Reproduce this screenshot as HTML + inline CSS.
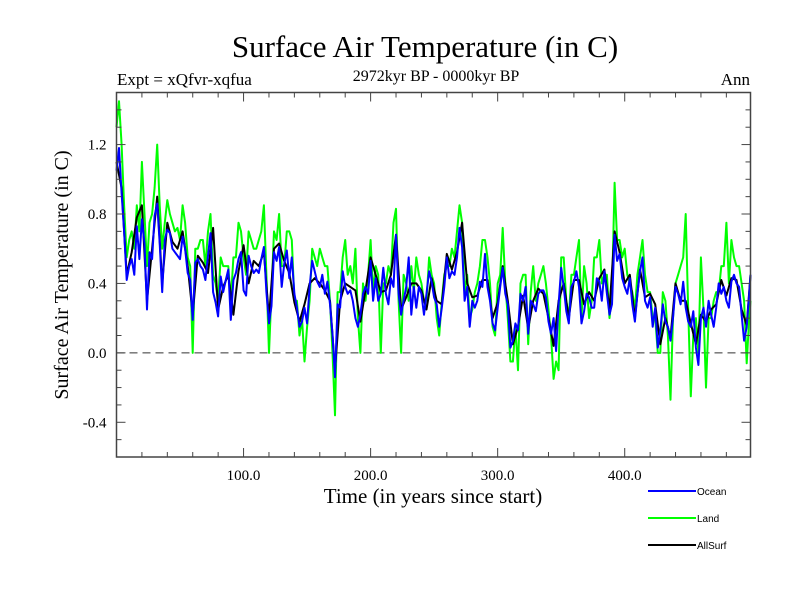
<!DOCTYPE html>
<html><head><meta charset="utf-8"><style>
html,body{margin:0;padding:0;background:#fff;}
svg{display:block;font-family:"Liberation Serif",serif;}
</style></head><body>
<svg id="chart" width="800" height="600" viewBox="0 0 800 600" xmlns="http://www.w3.org/2000/svg">
<rect x="0" y="0" width="800" height="600" fill="#fff"/>
<text x="425" y="57" font-size="31" text-anchor="middle">Surface Air Temperature (in C)</text>
<text x="117" y="85" font-size="17">Expt = xQfvr-xqfua</text>
<text x="436" y="81" font-size="16" text-anchor="middle">2972kyr BP - 0000kyr BP</text>
<text x="750" y="85" font-size="17" text-anchor="end">Ann</text>
<text transform="translate(68,275) rotate(-90)" font-size="20" text-anchor="middle">Surface Air Temperature (in C)</text>
<text x="433" y="503" font-size="21" text-anchor="middle">Time (in years since start)</text>
<g id="plot"></g>
<g font-family="Liberation Sans, sans-serif" font-size="10">
<line x1="648" y1="491" x2="696" y2="491" stroke="#0000ff" stroke-width="2"/>
<text x="697" y="495">Ocean</text>
<line x1="648" y1="518" x2="696" y2="518" stroke="#00ff00" stroke-width="2"/>
<text x="697" y="522">Land</text>
<line x1="648" y1="545" x2="696" y2="545" stroke="#000" stroke-width="2"/>
<text x="697" y="549">AllSurf</text>
</g>
</svg>
<script>
const oceanYears = Array.from({length:251},(_,i)=>i*2);
const oceanValues = [1.05,1.18,0.92,0.7,0.42,0.5,0.54,0.45,0.73,0.54,0.77,0.63,0.25,0.58,0.54,0.79,0.86,0.63,0.35,0.65,0.71,0.69,0.6,0.58,0.56,0.54,0.67,0.6,0.46,0.42,0.19,0.52,0.54,0.5,0.48,0.42,0.56,0.69,0.35,0.29,0.21,0.44,0.35,0.42,0.48,0.19,0.42,0.46,0.54,0.58,0.36,0.33,0.56,0.5,0.46,0.48,0.46,0.54,0.61,0.35,0.17,0.27,0.58,
0.53,0.61,0.38,0.51,0.59,0.43,0.55,0.34,0.26,0.15,0.18,0.26,0.17,0.38,0.53,0.47,0.41,0.38,0.45,0.34,0.41,0.28,0.11,-0.14,0.28,0.26,0.47,0.38,0.34,0.36,0.3,0.2,0.15,0.22,0.34,0.38,0.34,0.53,0.3,0.43,0.3,0.34,0.49,0.34,0.28,0.43,0.38,0.68,0.34,0.22,0.3,0.38,0.55,0.22,0.38,0.26,0.38,0.34,0.22,0.34,0.47,0.41,0.32,
0.28,0.15,0.26,0.38,0.55,0.43,0.47,0.45,0.55,0.72,0.61,0.3,0.38,0.15,0.3,0.26,0.3,0.41,0.38,0.57,0.38,0.3,0.17,0.13,0.26,0.38,0.49,0.34,0.28,0.03,0.07,0.17,0.13,0.34,0.3,0.38,0.11,0.3,0.28,0.24,0.34,0.36,0.36,0.32,0.18,0.11,0.2,0.01,0.28,0.49,0.38,0.24,0.17,0.38,0.41,0.47,0.38,0.17,0.24,0.34,0.32,0.26,
0.26,0.43,0.41,0.3,0.47,0.34,0.22,0.28,0.68,0.53,0.57,0.43,0.38,0.34,0.43,0.28,0.18,0.34,0.47,0.55,0.3,0.26,0.32,0.15,0.26,0.03,0.13,0.28,0.18,0.15,0.07,0.2,0.38,0.34,0.28,0.41,0.26,0.18,0.15,0.24,0.03,-0.07,0.2,0.26,0.15,0.3,0.22,0.15,0.26,0.4,0.34,0.38,0.3,0.26,0.41,0.45,0.4,0.38,0.22,0.07,0.15,0.34,0.45];
const landYears = Array.from({length:126},(_,i)=>i*4);
const landValues = [1.3,1.2,0.55,0.7,0.85,1.1,0.5,0.8,1.2,0.6,0.88,0.75,0.72,0.85,0.55,0.0,0.6,0.65,0.7,0.45,0.3,0.5,0.5,0.55,0.75,0.55,0.7,0.6,0.65,0.85,0.0,0.7,
0.8,0.5,0.7,0.3,0.1,-0.05,0.3,0.55,0.6,0.5,0.3,-0.36,0.35,0.65,0.5,0.6,0.0,0.3,0.65,0.5,0.0,0.4,0.45,0.83,0.0,0.4,0.5,0.55,0.4,0.3,0.45,
0.2,0.3,0.5,0.6,0.7,0.75,0.45,0.25,0.4,0.65,0.55,0.15,0.4,0.72,0.2,-0.05,-0.1,0.45,0.05,0.5,0.4,0.5,0.25,-0.15,-0.1,0.55,0.2,0.45,0.65,0.5,0.2,
0.55,0.65,0.45,0.2,0.98,0.65,0.6,0.4,0.25,0.55,0.45,0.35,0.2,0.0,0.3,-0.27,0.4,0.5,0.8,-0.25,0.2,0.55,-0.2,0.2,0.35,0.5,0.75,0.65,0.5,0.4,-0.06,0.3];
const landMidYears = Array.from({length:125},(_,i)=>2+i*4);
const landMidValues = [1.45,0.85,0.65,0.6,0.7,0.8,0.75,0.95,0.85,0.75,0.8,0.7,0.65,0.75,0.5,0.6,0.65,0.5,0.8,0.4,0.55,0.5,0.3,0.55,0.7,0.45,0.65,0.6,0.7,0.45,0.35,
0.65,0.5,0.7,0.65,0.3,0.2,0.15,0.6,0.5,0.55,0.5,0.0,0.35,0.55,0.45,0.4,0.2,0.4,0.45,0.35,0.45,0.4,0.5,0.75,0.3,0.45,0.3,0.35,0.45,0.3,0.55,0.4,
0.1,0.45,0.5,0.55,0.85,0.35,0.2,0.35,0.5,0.65,0.4,0.1,0.45,0.4,-0.05,0.15,0.4,0.45,0.35,0.3,0.45,0.4,0.1,-0.05,0.55,0.3,0.45,0.55,0.2,0.4,0.3,
0.55,0.4,0.45,0.35,0.65,0.55,0.45,0.35,0.45,0.65,0.35,0.2,0.0,0.35,0.1,0.2,0.45,0.55,0.25,0.1,0.0,0.25,0.2,0.3,0.35,0.5,0.4,0.55,0.5,0.3,0.2];
const allYears = Array.from({length:126},(_,i)=>i*4);
const allValues = [1.1,0.95,0.45,0.58,0.78,0.85,0.3,0.6,0.9,0.4,0.75,0.64,0.6,0.7,0.5,0.22,0.56,0.52,0.46,0.72,0.25,0.38,0.45,0.22,0.47,0.62,0.4,0.53,0.5,0.58,0.2,0.6,
0.63,0.53,0.46,0.29,0.18,0.28,0.4,0.43,0.4,0.36,0.3,-0.1,0.3,0.4,0.38,0.36,0.18,0.36,0.55,0.45,0.35,0.36,0.45,0.68,0.25,0.32,0.4,0.4,0.36,0.25,0.43,
0.3,0.28,0.57,0.48,0.58,0.75,0.4,0.32,0.33,0.42,0.42,0.2,0.29,0.5,0.3,0.05,0.15,0.33,0.14,0.3,0.37,0.34,0.2,0.04,0.3,0.4,0.2,0.42,0.42,0.28,0.35,
0.3,0.43,0.48,0.25,0.7,0.58,0.4,0.45,0.2,0.48,0.32,0.34,0.28,0.05,0.2,0.09,0.4,0.3,0.3,0.17,0.05,0.22,0.18,0.25,0.28,0.42,0.33,0.43,0.42,0.25,0.16,0.45];
const xTicks = [100,200,300,400];
const xTickLabels = ["100.0","200.0","300.0","400.0"];
const yTicks = [-0.4,0.0,0.4,0.8,1.2];
const yTickLabels = ["-0.4","0.0","0.4","0.8","1.2"];

const L=116.5,R=750.5,T=92.5,B=457;
const xMin=0,xMax=499,yMin=-0.6,yMax=1.5;
const sx=v=>L+(v-xMin)/(xMax-xMin)*(R-L);
const sy=v=>B-(v-yMin)/(yMax-yMin)*(B-T);
const NS="http://www.w3.org/2000/svg";
const g=document.getElementById('plot');
function mk(tag,attrs){const e=document.createElementNS(NS,tag);for(const k in attrs)e.setAttribute(k,attrs[k]);g.appendChild(e);return e;}
function series(pts,color,name){
  pts.sort((a,b)=>a[0]-b[0]);
  const d=pts.map((p,i)=>(i?'L':'M')+sx(Math.min(p[0],xMax)).toFixed(1)+' '+sy(p[1]).toFixed(1)).join(' ');
  const p=mk('path',{d:d,fill:'none',stroke:color,'stroke-width':2,'stroke-linejoin':'round'});
  
  
}
const z=mk('line',{x1:L,x2:R,y1:sy(0),y2:sy(0),stroke:'#333','stroke-width':1,'stroke-dasharray':'8,5'});


const landPts=landYears.map((x,i)=>[x,landValues[i]]).concat(landMidYears.map((x,i)=>[x,landMidValues[i]]));
series(landPts,'#00ff00','land-series');
series(allYears.map((x,i)=>[x,allValues[i]]),'#000000','allsurf-series');
series(oceanYears.map((x,i)=>[x,oceanValues[i]]),'#0000ff','ocean-series');
const fr=mk('rect',{x:L,y:T,width:R-L,height:B-T,fill:'none',stroke:'#444','stroke-width':1.5});


for(let v=20;v<xMax;v+=20){
  const major=v%100===0, len=major?9:5;
  const t1=mk('line',{x1:sx(v),x2:sx(v),y1:B,y2:B-len,stroke:'#444','stroke-width':1});
  
  
  const t2=mk('line',{x1:sx(v),x2:sx(v),y1:T,y2:T+len,stroke:'#444','stroke-width':1});
  
  
}
xTicks.forEach((v,i)=>{
  const t=mk('text',{x:sx(v),y:B+23,'font-size':15,'text-anchor':'middle'});
  t.textContent=xTickLabels[i];
  
  
});
for(let k=-5;k<=14;k++){
  const v=k/10, major=(k%4===0), len=major?9:5;
  const t1=mk('line',{x1:L,x2:L+len,y1:sy(v),y2:sy(v),stroke:'#444','stroke-width':1});
  
  
  const t2=mk('line',{x1:R,x2:R-len,y1:sy(v),y2:sy(v),stroke:'#444','stroke-width':1});
  
  
}
yTicks.forEach((v,i)=>{
  const t=mk('text',{x:L-10,y:sy(v)+5,'font-size':15,'text-anchor':'end'});
  t.textContent=yTickLabels[i];
  
  
});
</script>
</body></html>
